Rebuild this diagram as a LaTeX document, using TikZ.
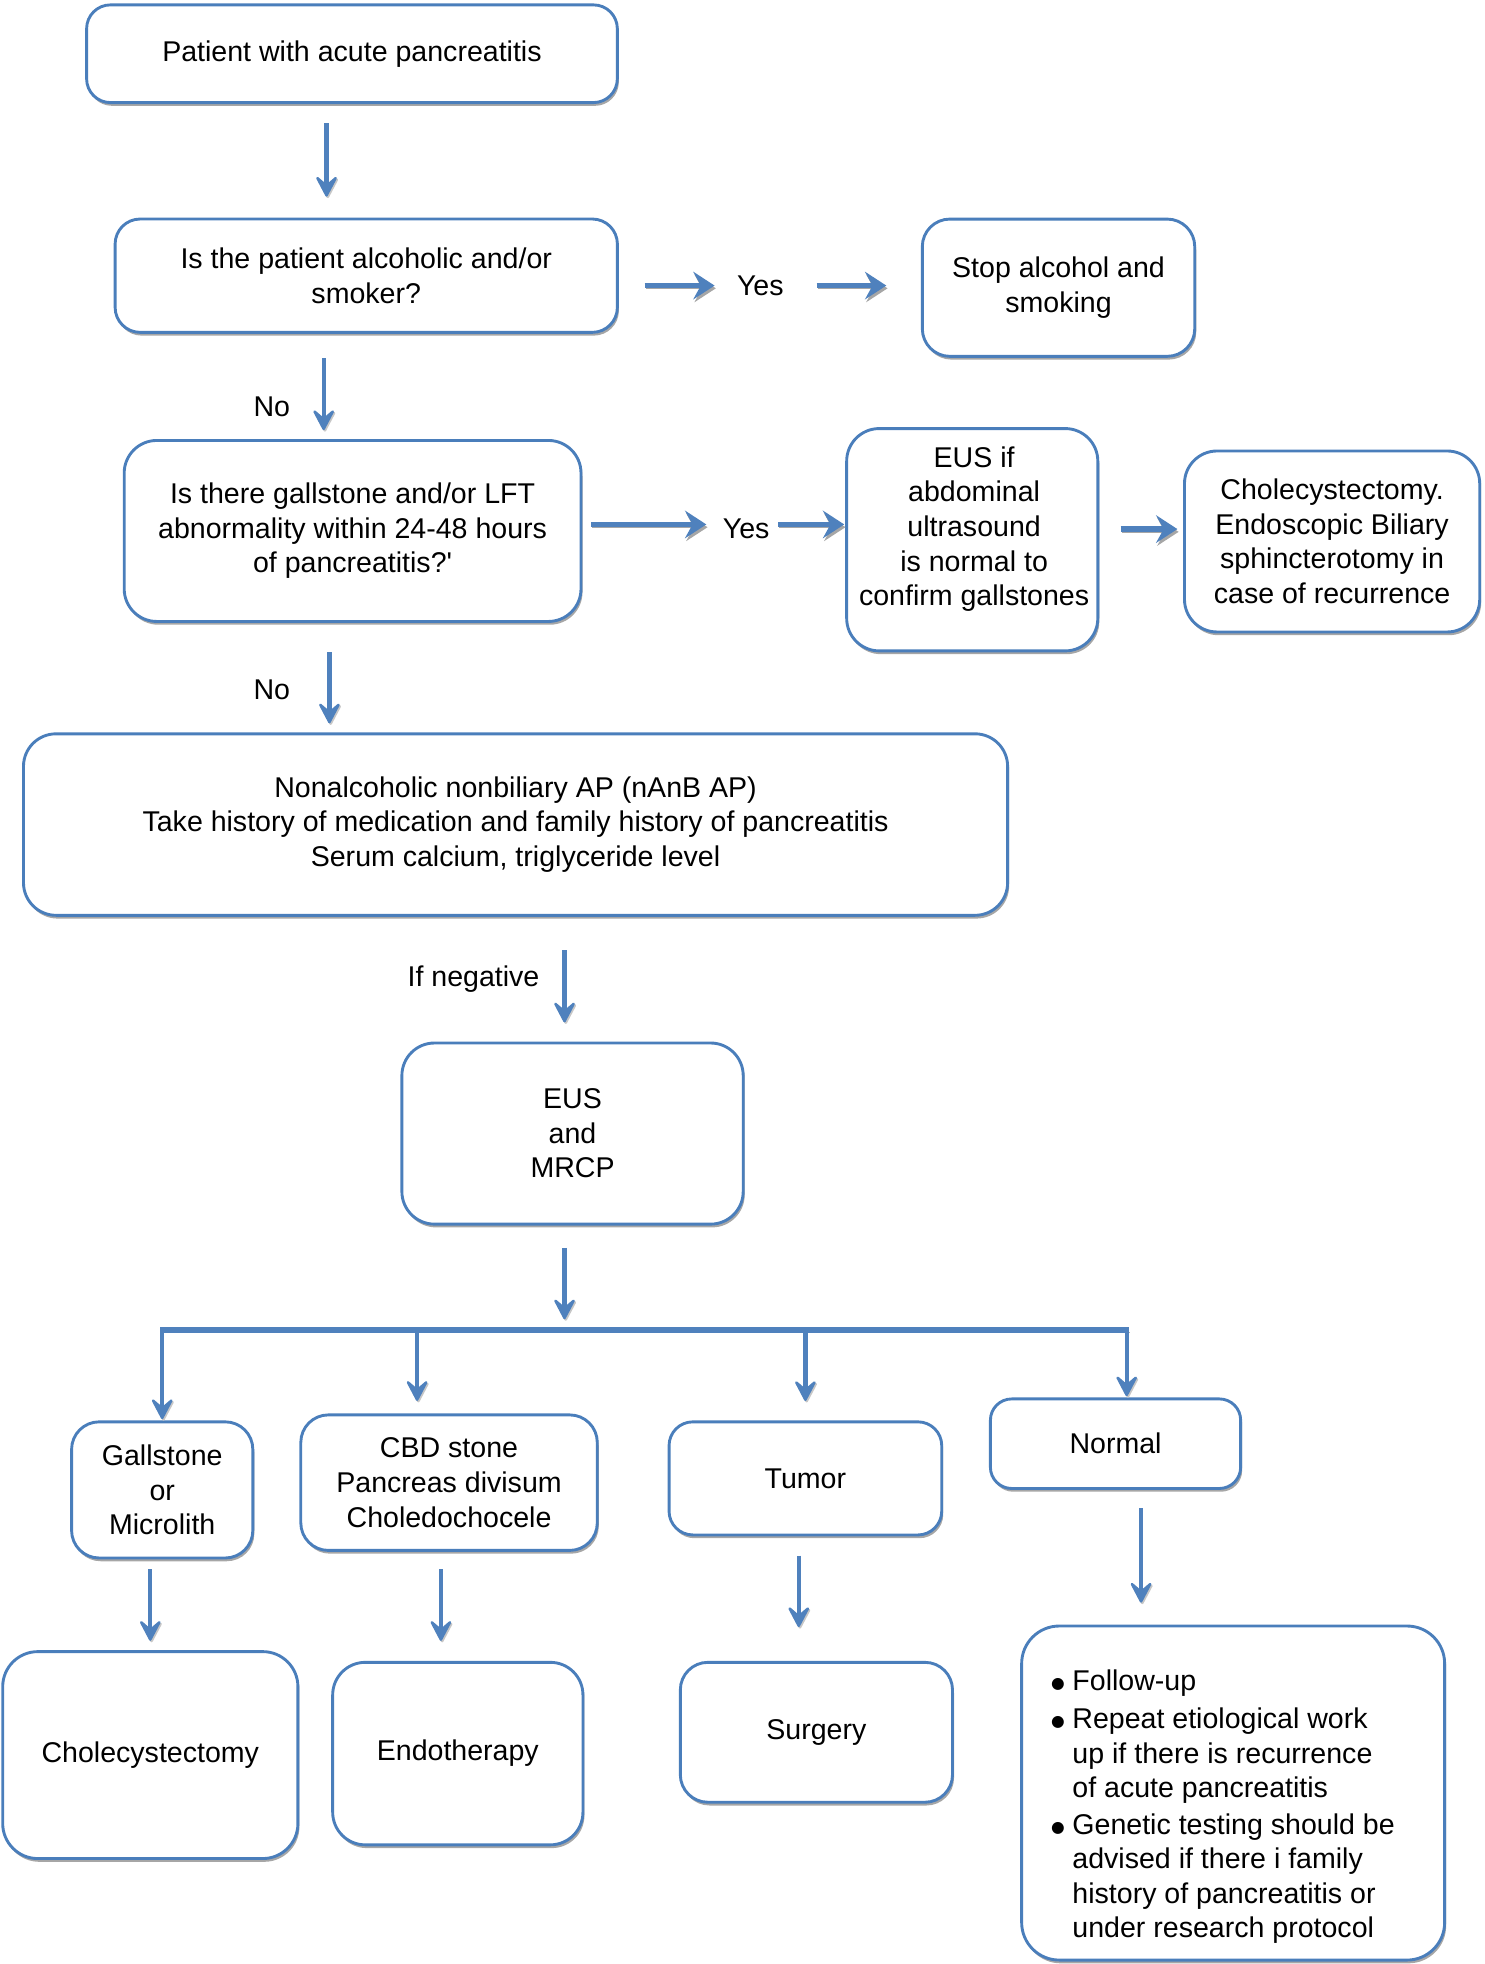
\documentclass[tikz,border=0pt]{standalone}
\usepackage{fontspec}
\setmainfont{Liberation Sans}
\newfontfamily\dejavu{DejaVu Sans}
\usetikzlibrary{arrows.meta,shadows,calc}
\definecolor{bblue}{HTML}{4A7EBB}
\definecolor{ablue}{HTML}{4F81BD}
\newcommand\myfs{\fontsize{22.8}{27.6}\selectfont}
\newcommand\mybul{\makebox[17pt][l]{\smash{\raisebox{1.5pt}{\dejavu\fontsize{12.5}{12.5}\selectfont ●}}}}
\tikzset{
  box/.style={draw=bblue, line width=2.3pt, rounded corners=#1, fill=white,
    align=center, inner sep=0pt, font=\myfs,
    drop shadow={shadow xshift=1.2pt, shadow yshift=-2.6pt, fill=black, opacity=0.35}},
  box/.default=20pt,
  txt/.style={font=\myfs, inner sep=0pt, align=center},
  varrow/.style={draw=ablue, line width=3.4pt,
    -{Stealth[length=20pt, width=21pt, inset=9pt, line width=2pt, round]},
    preaction={draw=black!22, transform canvas={xshift=1pt, yshift=-1.2pt}}},
  harrow/.style={draw=ablue, line width=4.6pt,
    -{Stealth[length=17pt, width=22pt, inset=6pt]},
    preaction={draw=black!35, transform canvas={xshift=1pt, yshift=-2.2pt}}},
  barline/.style={draw=ablue, line width=4.5pt,
    preaction={draw=black!30, transform canvas={xshift=0.5pt, yshift=-2pt}}}
}
\begin{document}
\begin{tikzpicture}[x=1pt,y=-1pt]
\useasboundingbox (0,0) rectangle (1185,1568);

% boxes
\node[box=19pt, minimum width=423.7, minimum height=78] (start) at (281,42.9) {Patient with acute pancreatitis};
\node[box=20pt, minimum width=401, minimum height=90.5] (q1) at (292.4,220.1) {Is the patient alcoholic and/or\\smoker?};
\node[box=22pt, minimum width=217.5, minimum height=109.6] (stop) at (845.1,229.7) {Stop alcohol and\\smoking};
\node[box=26pt, minimum width=364.7, minimum height=144.5] (q2) at (281.5,423.9) {Is there gallstone and/or LFT\\abnormality within 24-48 hours\\of pancreatitis?\textquotesingle};
\node[box=26pt, minimum width=200.5, minimum height=177.5] (eus) at (776.2,430.9) {};
\node[txt] (eust) at (777.7,422.4) {EUS if\\abdominal\\ultrasound\\is normal to\\confirm gallstones};
\node[box=26pt, minimum width=235.7, minimum height=144.5] (chole1) at (1063.5,432.3) {Cholecystectomy.\\Endoscopic Biliary\\sphincterotomy in\\case of recurrence};
\node[box=26pt, minimum width=785.7, minimum height=144.9] (nanb) at (411.6,658.3) {Nonalcoholic nonbiliary AP (nAnB AP)\\Take history of medication and family history of pancreatitis\\Serum calcium, triglyceride level};
\node[box=26pt, minimum width=272.5, minimum height=144.6] (eusm) at (457.1,905) {EUS\\and\\MRCP};
\node[box=22pt, minimum width=144.7, minimum height=108.7] (gall) at (129.5,1189.5) {Gallstone\\or\\Microlith};
\node[box=22pt, minimum width=236.7, minimum height=108.2] (cbd) at (358.5,1183.7) {CBD stone\\Pancreas divisum\\Choledochocele};
\node[box=19pt, minimum width=217.7, minimum height=90.3] (tumor) at (643,1180.3) {Tumor};
\node[box=17pt, minimum width=199.8, minimum height=71.5] (normal) at (890.6,1152.6) {Normal};
\node[box=28pt, minimum width=235.7, minimum height=165.2] (chole2) at (120,1401.2) {Cholecystectomy};
\node[box=26pt, minimum width=199.8, minimum height=145.7] (endo) at (365.5,1400) {Endotherapy};
\node[box=22pt, minimum width=217.3, minimum height=111.7] (surgery) at (651.8,1383) {Surgery};
\node[box=30pt, minimum width=337.7, minimum height=266.7] (bullets) at (984.5,1431.5) {};
\node[txt, align=left, anchor=north west] (bult) at ($(bullets.north west)+(24.5,35.8)$) {%
\mybul Follow-up\\[3pt]
\mybul Repeat etiological work\\
\hspace*{17pt}up if there is recurrence\\
\hspace*{17pt}of acute pancreatitis\\[1.5pt]
\mybul Genetic testing should be\\
\hspace*{17pt}advised if there i family\\
\hspace*{17pt}history of pancreatitis or\\
\hspace*{17pt}under research protocol};

% labels
\node[txt] (yes1) at (607,228) {Yes};
\node[txt] (yes2) at (595.7,422.4) {Yes};
\node[txt] (no1) at (217,325) {No};
\node[txt] (no2) at (217,551) {No};
\node[txt] (ifneg) at (378,781.7) {If negative};

% vertical arrows
\draw[varrow, shorten <=15.5pt, shorten >=16.7pt] ($(start.south)+(-20.3,0)$) coordinate (a1) -- (a1 |- q1.north);
\draw[varrow, shorten <=19.5pt, shorten >=7.1pt] ($(q1.south)+(-34,0)$) coordinate (a2) -- (a2 |- q2.north);
\draw[varrow, shorten <=23.6pt, shorten >=7.2pt] ($(q2.south)+(-18.5,0)$) coordinate (a3) -- (a3 |- nanb.north);
\path ($(eusm.north)+(-6.4,0)$) coordinate (a4);
\draw[varrow, shorten <=26.7pt, shorten >=15.3pt] (nanb.south -| a4) -- (a4);
\path ($(eusm.south)+(-6.4,83.5)$) coordinate (bar);
\draw[varrow, shorten <=17.8pt, shorten >=8.7pt] (eusm.south -| bar) -- (bar);

% branching bar
\path ($(cbd.north)+(-25.5,0)$) coordinate (dC);
\path ($(normal.north)+(8.9,0)$) coordinate (dN);
\draw[barline, shorten <=-1.75pt, shorten >=-1.75pt] (gall.north |- bar) -- (dN |- bar);
\draw[varrow, shorten >=1pt] (gall.north |- bar) -- (gall.north);
\draw[varrow, shorten >=10pt] (dC |- bar) -- (dC);
\draw[varrow, shorten >=15.5pt] (tumor.north |- bar) -- (tumor.north);
\draw[varrow, shorten >=1pt] (dN |- bar) -- (dN);

% lower arrows
\draw[varrow, shorten <=8pt, shorten >=7.5pt] ($(gall.south)+(-9.5,0)$) coordinate (a6) -- (a6 |- chole2.north);
\draw[varrow, shorten <=14pt, shorten >=16pt] ($(cbd.south)+(-6.5,0)$) coordinate (a7) -- (a7 |- endo.north);
\draw[varrow, shorten <=15.4pt, shorten >=27pt] ($(tumor.south)+(-5.3,0)$) coordinate (a8) -- (a8 |- surgery.north);
\draw[varrow, shorten <=14.5pt, shorten >=17.5pt] ($(normal.south)+(20.4,0)$) coordinate (a9) -- (a9 |- bullets.north);

% horizontal arrows
\draw[harrow, shorten <=20.5pt, shorten >=17.7pt] (q1.east |- yes1) -- (yes1.west);
\draw[harrow, shorten <=26.2pt, shorten >=27.6pt] (yes1.east) -- (yes1.east -| stop.west);
\draw[harrow, shorten <=7pt, shorten >=13pt] ($(q2.east |- yes2)+(0,-3.7)$) -- ($(yes2.west)+(0,-3.7)$);
\draw[harrow, shorten <=6.8pt, shorten >=0.8pt] ($(yes2.east)+(0,-3.7)$) -- ($(yes2.east -| eus.west)+(0,-3.7)$);
\draw[harrow, shorten <=17pt, shorten >=4.5pt] (eus.east |- eust) -- (chole1.west |- eust);
\end{tikzpicture}
\end{document}
